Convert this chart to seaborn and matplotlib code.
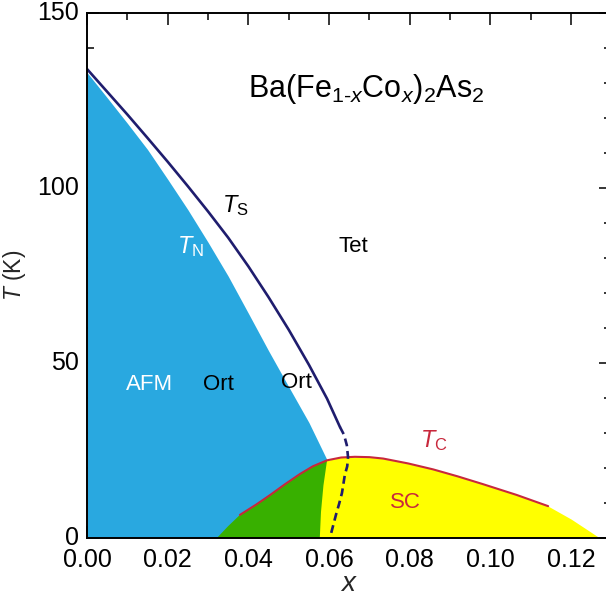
import matplotlib
matplotlib.use("Agg")
import matplotlib.pyplot as plt
import matplotlib.transforms as mtransforms
import seaborn as sns
import numpy as np
import pandas as pd

# ---------------- data ----------------
# Structural transition T_S (solid part)
ts_x = [0.0, 0.005, 0.01, 0.015, 0.02, 0.025, 0.03, 0.035, 0.04, 0.045,
        0.05, 0.055, 0.0595, 0.0627]
ts_y = [134.0, 127.5, 121.0, 114.3, 107.5, 100.5, 93.3, 85.8, 77.6, 68.8,
        59.5, 49.5, 39.8, 31.7]
# T_S dashed continuation
tsd_x = [0.0627, 0.0637, 0.0644, 0.0647, 0.0645, 0.0639, 0.0632, 0.0625, 0.0617, 0.0602]
tsd_y = [31.7, 29.5, 26.5, 23.1, 20.5, 18.0, 12.9, 9.8, 6.6, 0.0]
# Neel temperature T_N (edge of AFM region)
tn_x = [0.0, 0.005, 0.01, 0.015, 0.02, 0.025, 0.03, 0.035, 0.04, 0.045,
        0.05, 0.055, 0.0595]
tn_y = [133.0, 125.8, 118.5, 111.0, 102.5, 93.8, 84.5, 74.8, 64.2, 53.5,
        43.2, 33.0, 22.3]
# Superconducting dome T_C
tc_x = [0.0322, 0.035, 0.0379, 0.042, 0.0454, 0.049, 0.0528, 0.056, 0.0595,
        0.063, 0.0664, 0.070, 0.0734, 0.0796, 0.0858, 0.0919, 0.0981,
        0.1065, 0.1143, 0.1200, 0.1271]
tc_y = [0.0, 3.4, 6.6, 9.6, 12.3, 15.3, 18.3, 20.5, 22.2,
        23.0, 23.2, 23.1, 22.7, 21.3, 19.6, 17.6, 15.4,
        12.3, 9.1, 5.4, 0.0]
# part of the dome drawn as the red T_C line
tcl_x = tc_x[2:19]
tcl_y = tc_y[2:19]
# green / yellow boundary (edge of the coexistence region)
gb_x = [0.0595, 0.0586, 0.0580, 0.0577]
gb_y = [22.2, 15.0, 7.5, 0.0]

x_ticks = [0.00, 0.02, 0.04, 0.06, 0.08, 0.10, 0.12]
x_ticklabels = ["0.00", "0.02", "0.04", "0.06", "0.08", "0.10", "0.12"]
y_ticks = [0, 50, 100, 150]
y_ticklabels = ["0", "50", "100", "150"]

# ---------------- style ----------------
sns.set_theme(style="white")
plt.rcParams["font.family"] = ["Liberation Sans", "DejaVu Sans"]
plt.rcParams["mathtext.fontset"] = "custom"
plt.rcParams["mathtext.rm"] = "Liberation Sans"
plt.rcParams["mathtext.it"] = "Liberation Sans:italic"
plt.rcParams["mathtext.bf"] = "Liberation Sans:bold"

BLUE = "#29a8e0"
GREEN = "#38b000"
YELLOW = "#ffff00"
RED = "#c8283c"
NAVY = "#1f1d6e"

fig = plt.figure(figsize=(6.06, 6.01), dpi=100)
ax = fig.add_axes([87 / 606, 1 - 538 / 601, (611.5 - 87) / 606, (538 - 13) / 601])

# filled regions
ax.fill_between(tn_x, 0, tn_y, color=BLUE, lw=0, zorder=1)
ax.fill_between(tc_x, 0, tc_y, color=YELLOW, lw=0, zorder=2)
n_left = tc_x.index(0.0595) + 1
green_x = tc_x[:n_left] + gb_x[1:]
green_y = tc_y[:n_left] + gb_y[1:]
ax.fill(green_x, green_y, color=GREEN, lw=0, zorder=3)

# lines via seaborn
sns.lineplot(x=ts_x, y=ts_y, ax=ax, color=NAVY, lw=1.9, sort=False,
             estimator=None, zorder=5)
sns.lineplot(x=tsd_x, y=tsd_y, ax=ax, color=NAVY, lw=1.9, sort=False,
             estimator=None, zorder=5, linestyle=(0, (3.0, 1.8)))
sns.lineplot(x=tcl_x, y=tcl_y, ax=ax, color=RED, lw=1.5, sort=False,
             estimator=None, zorder=4)

ax.set_xlim(0, 0.13)
ax.set_ylim(0, 150)

# ticks
ax.set_xticks(x_ticks)
ax.set_xticklabels(x_ticklabels)
ax.set_yticks(y_ticks)
ax.set_yticklabels(y_ticklabels)
ax.set_xticks(np.arange(0.01, 0.13, 0.02), minor=True)
ax.set_yticks([v for v in range(10, 150, 10) if v % 50 != 0], minor=True)
ax.tick_params(which="both", direction="in", top=True, right=True,
               bottom=True, left=True, color="black", width=1.1,
               labelsize=18, labelcolor="black")
ax.tick_params(which="major", length=8.5)
ax.tick_params(which="minor", length=5)
ax.tick_params(axis="x", pad=7.5)
ax.tick_params(axis="y", pad=6)
# y tick labels sit slightly above their ticks in the reference
shift = mtransforms.ScaledTranslation(0, 2 / 72, fig.dpi_scale_trans)
for lab in ax.get_yticklabels():
    lab.set_transform(lab.get_transform() + shift)
for s in ax.spines.values():
    s.set_visible(True)
    s.set_color("black")
    s.set_linewidth(1.4)
    s.set_zorder(10)

ax.set_xlabel(r"$x$", fontsize=20, labelpad=-1)
ax.set_ylabel(r"$T$ (K)", fontsize=16.5, labelpad=6)

# annotations
ax.text(0.0693, 126, r"Ba(Fe$_{1\text{-}x}$Co$_{x}$)$_2$As$_2$", fontsize=22,
        ha="center", va="baseline", color="black", zorder=6)
ax.text(0.03346, 93.1, r"$T_\mathrm{S}$", fontsize=17, ha="left",
        va="baseline", color="black", zorder=6)
ax.text(0.0223, 81.4, r"$T_\mathrm{N}$", fontsize=17, ha="left",
        va="baseline", color="white", zorder=6)
ax.text(0.0659, 81.7, "Tet", fontsize=16, ha="center", va="baseline",
        color="black", zorder=6)
ax.text(0.0156, 42.3, "AFM", fontsize=16, ha="center", va="baseline",
        color="white", zorder=6)
ax.text(0.0325, 42.3, "Ort", fontsize=16, ha="center", va="baseline",
        color="black", zorder=6)
ax.text(0.0520, 42.9, "Ort", fontsize=16, ha="center", va="baseline",
        color="black", zorder=6)
ax.text(0.0825, 26.0, r"$T_\mathrm{C}$", fontsize=17, ha="left",
        va="baseline", color=RED, zorder=6)
ax.text(0.0788, 8.6, "SC", fontsize=16, ha="center", va="baseline",
        color=RED, zorder=6)

fig.savefig("out.png", dpi=100)
